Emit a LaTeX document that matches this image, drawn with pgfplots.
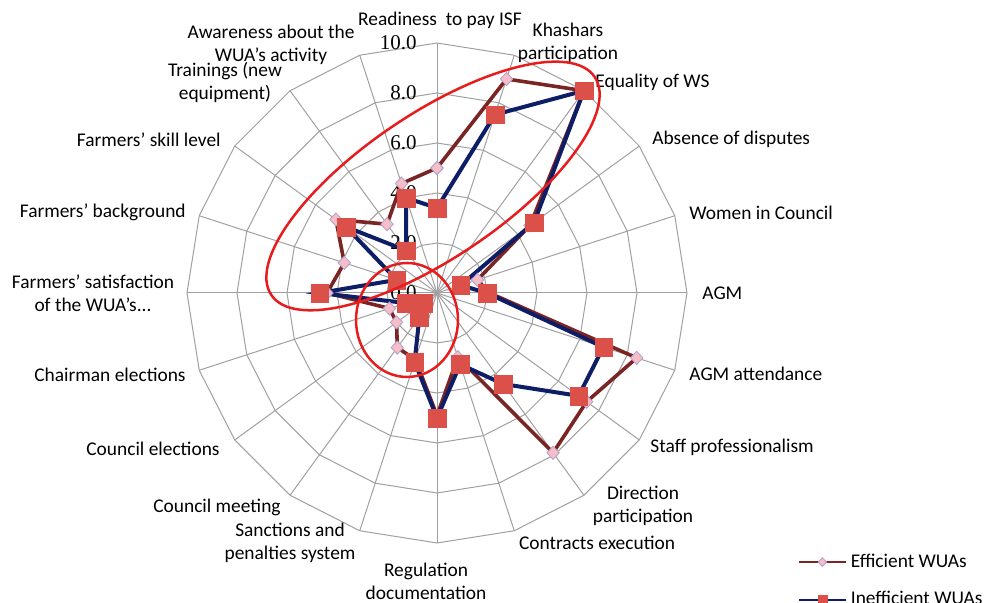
\documentclass[border=0pt]{standalone}
\usepackage{pgfplots}
\usepackage{pgfplotstable}
\usepackage{fontspec}
\pgfplotsset{compat=1.18}
\setmainfont{Carlito}
\newfontfamily\tickfont{Liberation Serif}

\definecolor{effline}{RGB}{122,36,36}
\definecolor{effmark}{RGB}{246,190,198}
\definecolor{effedge}{RGB}{176,160,206}
\definecolor{inline}{RGB}{14,30,102}
\definecolor{inmark}{RGB}{220,80,74}
\definecolor{ellred}{RGB}{232,28,28}
\definecolor{gridc}{RGB}{160,160,160}

% a = angle (deg, ccw from east), v = score; first row repeated to close the loop
\pgfplotstableread{
a    v
90   5.0
72   9.0
54   10.0
36   4.6
18   1.7
0    2.1
-18  8.4
-36  7.4
-54  7.9
-72  2.7
-90  4.9
-108 2.8
-126 2.7
-144 2.0
-162 2.0
-180 4.4
-198 3.9
-216 5.0
-234 3.4
-252 4.6
-270 5.0
}\efficient

\pgfplotstableread{
a    v
90   3.4
72   7.5
54   10.0
36   4.8
18   1.0
0    2.0
-18  7.0
-36  7.0
-54  4.5
-72  3.0
-90  5.0
-108 2.9
-126 1.2
-144 0.7
-162 1.3
-180 4.7
-198 1.7
-216 4.5
-234 2.1
-252 4.0
-270 3.4
}\inefficient

\tikzset{lab/.style={font=\fontsize{9.7}{11.5}\selectfont, align=center, inner sep=1pt}}

\begin{document}
\begin{tikzpicture}
\begin{axis}[
  x=12.5pt, y=12.5pt,
  xmin=-17.48, xmax=22.16,
  ymin=-12.4, ymax=11.72,
  hide axis,
  clip=false,
  legend style={at={(axis cs:14.42,-10.42)}, anchor=north west, draw=none, fill=none,
    font=\fontsize{9.7}{11.5}\selectfont, row sep=10.5pt, inner sep=0pt,
    nodes={inner xsep=2pt, inner ysep=0pt}},
  legend cell align=left,
  legend image code/.code={\draw[mark repeat=2,mark phase=2,#1]
    plot coordinates {(0pt,0pt) (11.75pt,0pt) (23.5pt,0pt)};},
]
% web
\pgfplotsinvokeforeach{2,4,6,8,10}{
  \addplot[gridc, line width=0.5pt, data cs=polar, forget plot] table[x=a, y expr=#1] {\efficient};
}
\pgfplotsinvokeforeach{90,72,...,-252}{
  \addplot[gridc, line width=0.5pt, data cs=polar, forget plot] coordinates {(#1,0) (#1,10)};
}
\pgfplotsinvokeforeach{0,2,4,6,8,10}{
  \node[anchor=east, font=\tickfont\fontsize{10.5}{12}\selectfont, inner sep=1pt] at (axis cs:-0.72,#1) {#1.0};
}

\addplot[effline, line width=1.8pt, data cs=polar, mark=diamond*, mark size=3.3pt,
  mark options={fill=effmark, draw=effedge, line width=0.4pt, xscale=1.25},
  legend image post style={line width=1pt, mark size=2.2pt}]
  table[x=a, y=v] {\efficient};
\addlegendentry{Efficient WUAs}
\addplot[inline, line width=2pt, data cs=polar, mark=square*, mark size=4.4pt,
  mark options={fill=inmark, draw=inmark, line width=0.1pt},
  legend image post style={line width=1pt, mark size=2.3pt}]
  table[x=a, y=v] {\inefficient};
\addlegendentry{Inefficient WUAs}

\coordinate (bigc) at (axis cs:-0.16,4.28);
\coordinate (smallc) at (axis cs:-1.2,-1.08);

% category labels
\node[lab] at (axis cs:0.12,10.92) {Readiness\ \ to pay ISF};
\node[lab] at (axis cs:5.24,10.0) {Khashars\\participation};
\node[lab, anchor=west] at (axis cs:6.24,8.44) {Equality of WS};
\node[lab, anchor=west] at (axis cs:8.52,6.16) {Absence of disputes};
\node[lab, anchor=west] at (axis cs:10.0,3.2) {Women in Council};
\node[lab, anchor=west] at (axis cs:10.52,0) {AGM};
\node[lab, anchor=west] at (axis cs:10.0,-3.24) {AGM attendance};
\node[lab, anchor=west] at (axis cs:8.44,-6.16) {Staff professionalism};
\node[lab] at (axis cs:8.24,-8.52) {Direction\\participation};
\node[lab] at (axis cs:6.4,-10.0) {Contracts execution};
\node[lab] at (axis cs:-0.44,-11.52) {Regulation\\documentation};
\node[lab] at (axis cs:-5.88,-10.0) {Sanctions and\\penalties system};
\node[lab, anchor=east] at (axis cs:-6.16,-8.56) {Council meeting};
\node[lab, anchor=east] at (axis cs:-8.6,-6.24) {Council elections};
\node[lab, anchor=east] at (axis cs:-9.96,-3.28) {Chairman elections};
\node[lab] at (axis cs:-13.76,0) {Farmers’ satisfaction\\of the WUA’s...};
\node[lab, anchor=east] at (axis cs:-9.96,3.24) {Farmers’ background};
\node[lab, anchor=east] at (axis cs:-8.56,6.12) {Farmers’ skill level};
\node[lab] at (axis cs:-8.48,8.44) {Trainings (new\\equipment)};
\node[lab] at (axis cs:-6.64,9.92) {Awareness about the\\WUA’s activity};
\end{axis}
% hand-drawn highlight ellipses
\draw[ellred, line width=1.25pt, shift={(bigc)}, rotate=34]
  (0,0) ellipse[x radius=97.5pt, y radius=36pt];
\draw[ellred, line width=1.25pt, shift={(smallc)}]
  (0,0) ellipse[x radius=25.5pt, y radius=28.5pt];
\pgfresetboundingbox
\path[use as bounding box] (current axis.south west) rectangle (current axis.north east);
\end{tikzpicture}
\end{document}
